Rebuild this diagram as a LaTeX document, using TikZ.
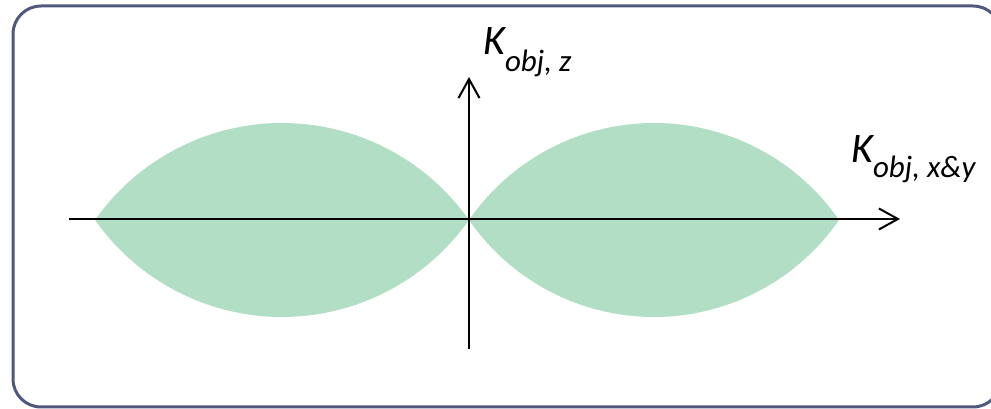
\documentclass[tikz,border=0pt]{standalone}
\usepackage{fontspec}
\setmainfont{Carlito}
\usetikzlibrary{arrows.meta}
\definecolor{lobe}{RGB}{179,222,198}
\definecolor{frame}{RGB}{78,89,125}
\tikzset{
  axis/.style={line width=2pt, -{Straight Barb[length=19pt,width=21pt,line width=2pt]}},
  lobefill/.style={fill=lobe, draw=none},
  lbl/.style={anchor=base west, inner sep=0pt, font=\itshape\fontsize{42}{42}\selectfont}
}
\newcommand{\lens}[3]{% cx, cy, a ; h fixed 97
  \pgfmathsetmacro{\hh}{97}
  \pgfmathsetmacro{\RR}{(#3/\hh*#3+\hh)/2}
  \pgfmathsetmacro{\th}{asin(#3/\RR)}
  \fill[lobefill] (#1-#3,#2) arc[start angle=90+\th, end angle=90-\th, radius=\RR]
     arc[start angle=270+\th, end angle=270-\th, radius=\RR] -- cycle;
}
\begin{document}
\begin{tikzpicture}[x=1pt,y=1pt]
\clip (0,0) rectangle (991,409);
\useasboundingbox (0,0) rectangle (991,409);
\draw[frame, line width=3pt, rounded corners=28pt] (13,2) rectangle (1001,403);
\lens{282}{189}{187}
\lens{654}{189}{185}
\coordinate (hl) at (69,190);
\coordinate (hr) at (900,190);
\coordinate (vb) at (469,60);
\coordinate (vt) at (469,332);
\draw[axis] (hl) -- (hr);
\draw[axis] (vb) -- (vt);
\node[lbl] (kz) at (483,354) {K\raisebox{-17pt}{\fontsize{31}{31}\selectfont obj, z}};
\node[lbl] (kxy) at (851,246) {K\raisebox{-15pt}{\fontsize{31}{31}\selectfont obj, x\&y}};
\end{tikzpicture}
\end{document}
